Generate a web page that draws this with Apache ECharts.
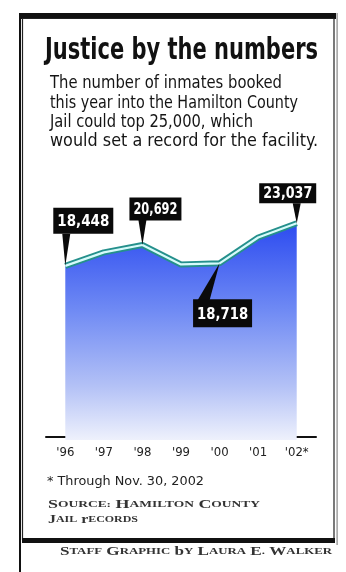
<!DOCTYPE html>
<html>
<head>
<meta charset="utf-8">
<script src="https://cdn.jsdelivr.net/npm/echarts@6/dist/echarts.min.js"></script>
<style>
html,body{margin:0;padding:0;background:#fff;}
#chart{width:346px;height:572px;}
</style>
</head>
<body>
<div id="chart"></div>
<script>
// ---- DATA ----
var years = ["'96", "'97", "'98", "'99", "'00", "'01", "'02*"];
var inmates = [18448, 19900, 20692, 18600, 18718, 21500, 23037];
var labelledIdx = [0, 2, 4, 6];

// ---- STYLE / LAYOUT (not data) ----
var COND = '"DejaVu Sans Condensed", "Liberation Sans Narrow", "Roboto", sans-serif';
var SERIF = '"Liberation Serif", "DejaVu Serif", serif';
var boxStyle = {
  0: {dx: 18, dy: -45, w: 60, h: 26, spike: [[-3, -32], [5, -32]]},
  2: {dx: 13, dy: -36, w: 52, h: 23, spike: [[-4, -25], [4, -25]]},
  4: {dx: 3, dy: 50, w: 59, h: 28, spike: [[-22, 37], [-10, 37]]},
  6: {dx: -9, dy: -30, w: 57, h: 20, spike: [[-4, -20], [4, -20]]}
};

var measureCtx = document.createElement('canvas').getContext('2d');
function fitScale(text, weight, size, family, target) {
  measureCtx.font = weight + ' ' + size + 'px ' + family;
  var w = measureCtx.measureText(text).width;
  return w > 0 ? target / w : 1;
}
function txt(text, x, y, size, weight, family, targetW, color) {
  return {
    type: 'text', x: x, y: y, z: 10,
    scaleX: targetW ? fitScale(text, weight, size, family, targetW) : 1,
    style: {text: text, fontSize: size, fontWeight: weight, fontFamily: family,
            fill: color || '#111', verticalAlign: 'middle', align: 'left'}
  };
}
function fmt(v) { return String(v).replace(/\B(?=(\d{3})+(?!\d))/g, ','); }

var chart = echarts.init(document.getElementById('chart'), null, {renderer: 'canvas'});

var subtitle = [
  ['The number of inmates booked', 232],
  ['this year into the Hamilton County', 248],
  ['Jail could top 25,000, which', 203],
  ['would set a record for the facility.', 268]
];
var graphics = [
  // frame
  {type: 'rect', shape: {x: 19, y: 13, width: 2, height: 559}, style: {fill: '#111'}},
  {type: 'rect', shape: {x: 19, y: 13, width: 317, height: 6}, style: {fill: '#111'}},
  {type: 'rect', shape: {x: 22.5, y: 18.5, width: 311.5, height: 521}, style: {fill: 'none', stroke: '#222', lineWidth: 1.2}},
  {type: 'rect', shape: {x: 22, y: 538, width: 313, height: 5}, style: {fill: '#111'}},
  {type: 'rect', shape: {x: 336.5, y: 13, width: 1.2, height: 532}, style: {fill: '#888'}},
  // title
  txt('Justice by the numbers', 45, 51, 30, 'bold', COND, 273, '#111')
];
subtitle.forEach(function (s, i) {
  graphics.push(txt(s[0], 50, 84 + i * 19.3, 17, 'normal', COND, s[1], '#151515'));
});
graphics.push(txt('* Through Nov. 30, 2002', 47, 482, 13, 'normal', COND, 157, '#222'));

function smallCaps(str) {
  return str.split(' ').map(function (w) {
    return '{a|' + w.charAt(0) + '}' + (w.length > 1 ? '{b|' + w.slice(1).toUpperCase() + '}' : '');
  }).join('{s| }');
}
function scText(str, x, y, big, small, targetW) {
  var rich = {
    a: {fontSize: big, fontFamily: SERIF, fontWeight: 'bold', fill: '#333'},
    b: {fontSize: small, fontFamily: SERIF, fontWeight: 'bold', fill: '#333'},
    s: {fontSize: big, fontFamily: SERIF, fill: '#333'}
  };
  var total = 0;
  str.split(' ').forEach(function (w, i) {
    measureCtx.font = 'bold ' + big + 'px ' + SERIF;
    total += measureCtx.measureText(w.charAt(0)).width;
    if (i > 0) total += measureCtx.measureText(' ').width;
    measureCtx.font = 'bold ' + small + 'px ' + SERIF;
    total += measureCtx.measureText(w.slice(1).toUpperCase()).width;
  });
  return {
    type: 'text', x: x, y: y, z: 10, scaleX: targetW / total,
    style: {text: smallCaps(str), rich: rich, verticalAlign: 'middle', align: 'left'}
  };
}
graphics.push(scText('Source: Hamilton County', 48, 505, 12, 9, 212));
graphics.push(scText('Jail records', 48, 520, 12, 9, 90));
graphics.push(scText('Staff Graphic by Laura E. Walker', 60, 552, 12, 9, 272));

var option = {
  animation: false,
  backgroundColor: '#fff',
  grid: {left: 46, right: 30, top: 205, bottom: 132},
  xAxis: {
    type: 'category', data: years, boundaryGap: true,
    axisLine: {show: true, onZero: true, lineStyle: {color: '#111', width: 2}},
    axisTick: {show: false},
    axisLabel: {color: '#222', fontSize: 13, fontFamily: COND, margin: 6}
  },
  yAxis: {type: 'value', min: -300, max: 25000, show: false, splitLine: {show: false}},
  series: [
    {
      type: 'line', data: inmates, symbol: 'none', z: 2,
      lineStyle: {color: '#25908c', width: 6},
      areaStyle: {
        opacity: 1, origin: 'start',
        color: new echarts.graphic.LinearGradient(0, 0, 0, 1, [
          {offset: 0, color: '#2c4bf0'},
          {offset: 0.4, color: '#6f8af4'},
          {offset: 0.75, color: '#b3c1f6'},
          {offset: 1, color: '#eef1fc'}
        ])
      }
    },
    {
      type: 'line', data: inmates, symbol: 'none', z: 3,
      lineStyle: {color: '#d6fbfb', width: 2.2}
    },
    {
      type: 'custom', z: 5,
      data: labelledIdx.map(function (i) { return [i, inmates[i]]; }),
      renderItem: function (params, api) {
        var idx = api.value(0);
        var p = api.coord([idx, api.value(1)]);
        var b = boxStyle[idx];
        var cx = p[0] + b.dx, cy = p[1] + b.dy;
        var label = fmt(api.value(1));
        var fam = COND;
        return {
          type: 'group',
          children: [
            {type: 'polygon', shape: {points: [[p[0] + b.spike[0][0], p[1] + b.spike[0][1]], [p[0] + b.spike[1][0], p[1] + b.spike[1][1]], [p[0], p[1]]]}, style: {fill: '#0a0a0a'}},
            {type: 'rect', shape: {x: cx - b.w / 2, y: cy - b.h / 2, width: b.w, height: b.h}, style: {fill: '#0a0a0a'}},
            {type: 'text', x: cx - (b.w - 8) / 2, y: cy + 1,
             scaleX: fitScale(label, 'bold', 16, fam, b.w - 8),
             style: {text: label, fontSize: 16, fontWeight: 'bold', fontFamily: fam, fill: '#fff', verticalAlign: 'middle', align: 'left'}}
          ]
        };
      }
    }
  ],
  graphic: graphics
};
chart.setOption(option);
</script>
</body>
</html>
